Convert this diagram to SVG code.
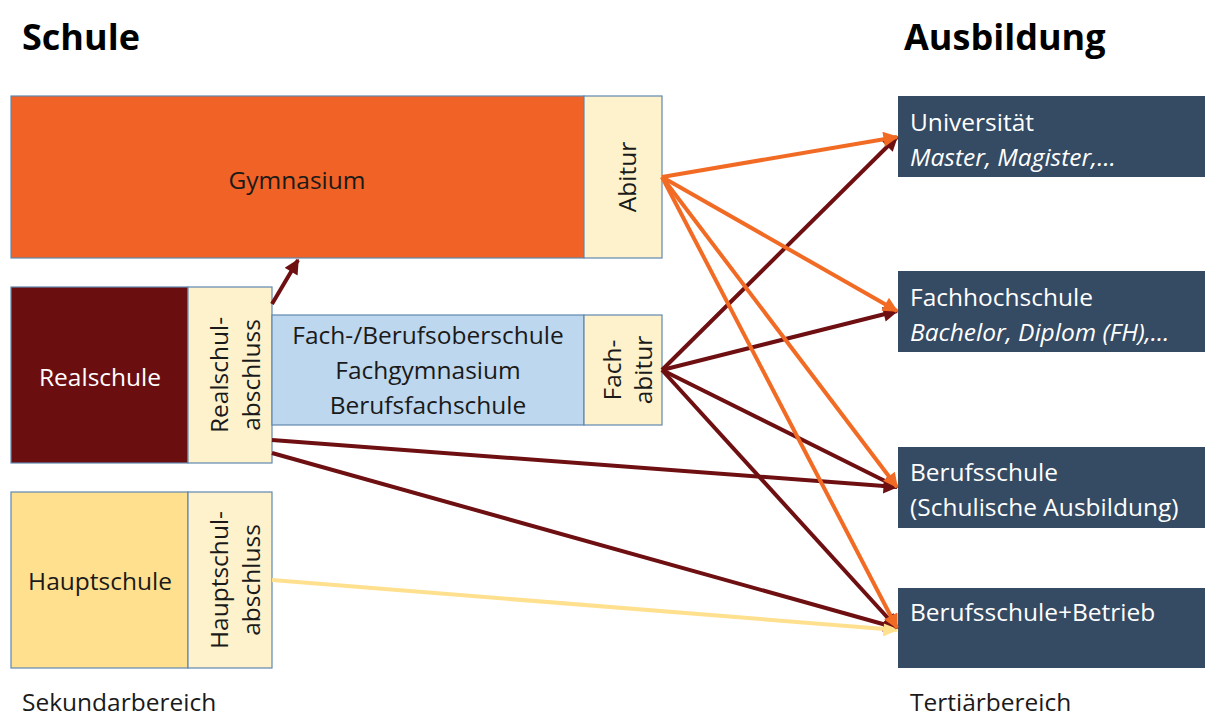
<svg xmlns="http://www.w3.org/2000/svg" width="1205" height="720" viewBox="0 0 1205 720">
<defs>
<style>
text{font-family:"Open Sans","Noto Sans","Liberation Sans",sans-serif;}
.title{font-size:36px;font-weight:bold;fill:#000;}
.lbl{font-size:24.5px;fill:#1a1a1a;}
.box{stroke:#5f88b0;stroke-width:1.2;}
.cream{fill:#fef2cc;}
.rt{font-size:24.5px;fill:#fff;}
.rb{fill:#354a63;}
.c{fill:none;stroke-width:4;}
.or{stroke:#f26b24;}
.mr{stroke:#6e0f12;}
.yl{stroke:#ffe08f;}
</style>
<marker id="aor" viewBox="0 0 10 10" refX="9" refY="5" markerWidth="17" markerHeight="15" markerUnits="userSpaceOnUse" orient="auto"><path d="M0,0L10,5L0,10z" fill="#f26b24"/></marker>
<marker id="amr" viewBox="0 0 10 10" refX="9" refY="5" markerWidth="17" markerHeight="15" markerUnits="userSpaceOnUse" orient="auto"><path d="M0,0L10,5L0,10z" fill="#6e0f12"/></marker>
<marker id="ayl" viewBox="0 0 10 10" refX="9" refY="5" markerWidth="17" markerHeight="15" markerUnits="userSpaceOnUse" orient="auto"><path d="M0,0L10,5L0,10z" fill="#ffe08f"/></marker>
</defs>
<rect width="1205" height="720" fill="#fff"/>
<text class="title" x="22" y="50">Schule</text>
<text class="title" x="904" y="50">Ausbildung</text>

<g id="gymnasium"><rect class="box" x="11" y="96" width="573" height="162" fill="#f06225"/><text class="lbl" x="297" y="189" text-anchor="middle">Gymnasium</text></g>
<g id="abitur"><rect class="box cream" x="584" y="96" width="78" height="162"/><text class="lbl" transform="translate(636,177) rotate(-90)" text-anchor="middle">Abitur</text></g>
<g id="realschule"><rect class="box" x="11" y="287" width="177" height="176" fill="#6b0e10"/><text class="rt" x="100" y="386" text-anchor="middle">Realschule</text></g>
<g id="realschulabschluss"><rect class="box cream" x="188" y="287" width="84" height="176"/><text class="lbl" transform="translate(228,375) rotate(-90)" text-anchor="middle">Realschul-</text><text class="lbl" transform="translate(260,375) rotate(-90)" text-anchor="middle">abschluss</text></g>
<g id="fachschulen"><rect class="box" x="272" y="315" width="312" height="110" fill="#bdd7ee"/><text class="lbl" x="428" y="344" text-anchor="middle">Fach-/Berufsoberschule</text><text class="lbl" x="428" y="379" text-anchor="middle">Fachgymnasium</text><text class="lbl" x="428" y="414" text-anchor="middle">Berufsfachschule</text></g>
<g id="fachabitur"><rect class="box cream" x="584" y="315" width="78" height="110"/><text class="lbl" transform="translate(621,370) rotate(-90)" text-anchor="middle">Fach-</text><text class="lbl" transform="translate(652,370) rotate(-90)" text-anchor="middle">abitur</text></g>
<g id="hauptschule"><rect class="box" x="11" y="492" width="177" height="176" fill="#ffe08f"/><text class="lbl" x="100" y="590" text-anchor="middle">Hauptschule</text></g>
<g id="hauptschulabschluss"><rect class="box cream" x="188" y="492" width="84" height="176"/><text class="lbl" transform="translate(228,580) rotate(-90)" text-anchor="middle">Hauptschul-</text><text class="lbl" transform="translate(260,580) rotate(-90)" text-anchor="middle">abschluss</text></g>

<g id="universitaet"><rect class="rb" x="898" y="96" width="307" height="81"/><text class="rt" x="910" y="131">Universität</text><text class="rt" x="910" y="166" font-style="italic">Master, Magister,…</text></g>
<g id="fachhochschule"><rect class="rb" x="898" y="271" width="307" height="81"/><text class="rt" x="910" y="306">Fachhochschule</text><text class="rt" x="910" y="341" font-style="italic">Bachelor, Diplom (FH),…</text></g>
<g id="berufsschule"><rect class="rb" x="898" y="447" width="307" height="81"/><text class="rt" x="910" y="481">Berufsschule</text><text class="rt" x="910" y="516">(Schulische Ausbildung)</text></g>
<g id="berufsschule-betrieb"><rect class="rb" x="898" y="588" width="307" height="80"/><text class="rt" x="910" y="621">Berufsschule+Betrieb</text></g>

<text class="lbl" x="22" y="711">Sekundarbereich</text>
<text class="lbl" x="910" y="711">Tertiärbereich</text>

<g id="connectors">
<line class="c mr" x1="272" y1="304" x2="298" y2="260" marker-end="url(#amr)"/>
<line class="c mr" x1="272" y1="440" x2="897" y2="487" marker-end="url(#amr)"/>
<line class="c mr" x1="272" y1="453" x2="897" y2="628" marker-end="url(#amr)"/>
<line class="c yl" x1="272" y1="580" x2="897" y2="630" marker-end="url(#ayl)"/>
<line class="c mr" x1="662" y1="370" x2="897" y2="137" marker-end="url(#amr)"/>
<line class="c mr" x1="662" y1="370" x2="897" y2="311" marker-end="url(#amr)"/>
<line class="c mr" x1="662" y1="370" x2="897" y2="487" marker-end="url(#amr)"/>
<line class="c mr" x1="662" y1="370" x2="897" y2="628" marker-end="url(#amr)"/>
<line class="c or" x1="662" y1="177" x2="897" y2="137" marker-end="url(#aor)"/>
<line class="c or" x1="662" y1="177" x2="897" y2="311" marker-end="url(#aor)"/>
<line class="c or" x1="662" y1="177" x2="897" y2="487" marker-end="url(#aor)"/>
<line class="c or" x1="662" y1="177" x2="897" y2="628" marker-end="url(#aor)"/>
</g>
</svg>
